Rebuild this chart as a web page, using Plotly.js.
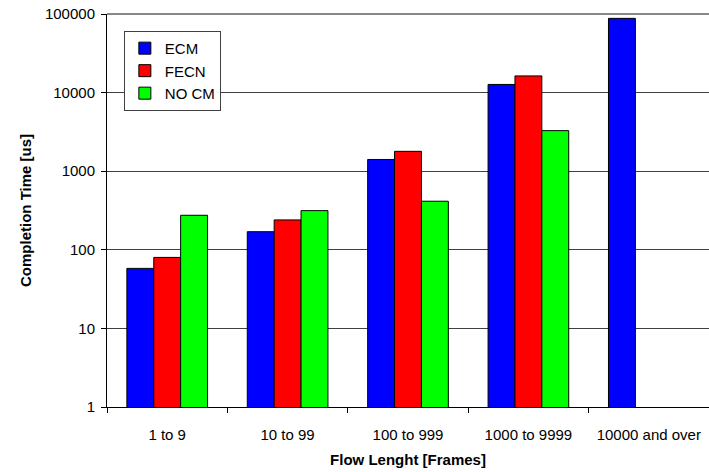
<!DOCTYPE html>
<html>
<head>
<meta charset="utf-8">
<script src="https://cdn.plot.ly/plotly-3.0.1.min.js"></script>
<style>html,body{margin:0;padding:0;background:#fff;}#chart{width:709px;height:472px;}</style>
</head>
<body>
<div id="chart"></div>
<script>
const categories = ["1 to 9", "10 to 99", "100 to 999", "1000 to 9999", "10000 and over"];
const ecm  = [58, 170, 1410, 12700, 88000];
const fecn = [80, 240, 1790, 16300, null];
const nocm = [275, 315, 415, 3280, null];
const seriesNames = ["ECM", "FECN", "NO CM"];
const seriesColors = ["#0000FF", "#FF0000", "#00FF00"];
const yTickVals = [1, 10, 100, 1000, 10000, 100000];
const yTickText = ["1", "10", "100", "1000", "10000", "100000"];

const font = "Liberation Sans, Arial, sans-serif";
const traces = [ecm, fecn, nocm].map((vals, i) => ({
  type: "bar",
  name: seriesNames[i],
  x: categories,
  y: vals,
  marker: {color: seriesColors[i], line: {color: "#000000", width: 1}}
}));

const layout = {
  width: 709, height: 472,
  margin: {l: 107, r: 0, t: 14, b: 65, pad: 0},
  paper_bgcolor: "#ffffff", plot_bgcolor: "#ffffff",
  font: {family: font, size: 15, color: "#000000"},
  barmode: "group", bargap: 0.33, bargroupgap: 0,
  showlegend: true,
  legend: {
    x: 0.028, y: 0.957, xanchor: "left", yanchor: "top",
    bordercolor: "#404040", borderwidth: 1, bgcolor: "#ffffff",
    font: {family: font, size: 15, color: "#000000"},
    tracegroupgap: 0, itemwidth: 30
  },
  xaxis: {
    type: "category",
    showline: true, linecolor: "#000000", linewidth: 1,
    ticks: "outside", ticklen: 5, tickcolor: "#000000", tickson: "boundaries",
    showgrid: false,
    tickfont: {family: font, size: 15, color: "#000000"},
    ticklabelstandoff: 14,
    title: {text: "<b>Flow Lenght [Frames]</b>", font: {family: font, size: 15, color: "#000000"}, standoff: 12}
  },
  yaxis: {
    type: "log", range: [0, 5],
    tickvals: yTickVals, ticktext: yTickText,
    showline: true, linecolor: "#000000", linewidth: 1,
    ticks: "outside", ticklen: 5, tickcolor: "#000000",
    showgrid: true, gridcolor: "#404040", gridwidth: 1,
    tickfont: {family: font, size: 15, color: "#000000"},
    ticklabelstandoff: 3,
    title: {text: "<b>Completion Time [us]</b>", font: {family: font, size: 15, color: "#000000"}, standoff: 9}
  },
  shapes: [{type: "line", xref: "paper", yref: "paper", x0: 0, x1: 1, y0: 1, y1: 1, line: {color: "#888888", width: 2}}]
};

Plotly.newPlot("chart", traces, layout, {displayModeBar: false, staticPlot: true});
</script>
</body>
</html>
